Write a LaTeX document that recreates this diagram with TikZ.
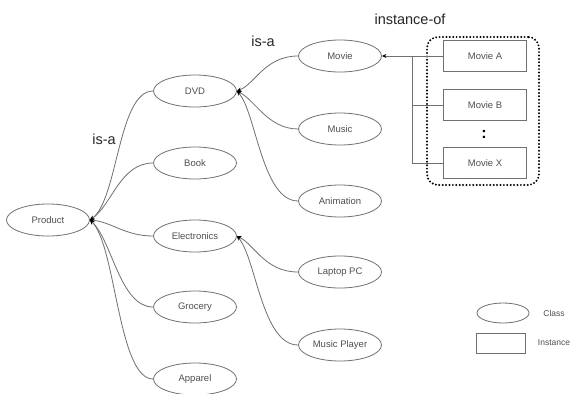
\documentclass[tikz,border=0pt]{standalone}
\usepackage{fontspec}
\setmainfont{Liberation Sans}
\usetikzlibrary{shapes.geometric,arrows.meta}
\definecolor{linegray}{HTML}{707070}
\definecolor{textgray}{HTML}{505050}
\tikzset{
  cls/.style={ellipse, draw=linegray, line width=0.8pt, minimum width=83pt, minimum height=32pt, inner sep=0pt, font=\fontsize{9.5}{10}\selectfont, text=textgray},
  inst/.style={rectangle, draw=linegray, line width=0.8pt, minimum width=83pt, minimum height=31pt, inner sep=0pt, font=\fontsize{9.5}{10}\selectfont, text=textgray},
  isa/.style={draw=linegray, line width=0.8pt, -{Stealth[length=4.5pt,width=4pt,black]}},
  plain/.style={draw=linegray, line width=0.8pt},
  lbl/.style={font=\fontsize{14.5}{15}\selectfont, text=black!85, inner sep=0pt},
  grp/.style={draw=black, line width=2.2pt, line cap=round, dash pattern=on 0pt off 3.4pt, rounded corners=11pt}
}
\begin{document}
\begin{tikzpicture}[x=1pt,y=-1pt]
\useasboundingbox[fill=white] (0,0) rectangle (574,394);
% classes
\node[cls] (product) at (48,220) {Product};
\node[cls] (dvd) at (195,91) {DVD};
\node[cls] (book) at (195,163) {Book};
\node[cls] (elec) at (195,236) {Electronics};
\node[cls] (groc) at (195,307) {Grocery};
\node[cls] (app) at (195,379) {Apparel};
\node[cls] (movie) at (340,56) {Movie};
\node[cls] (music) at (340,129) {Music};
\node[cls] (anim) at (340,201) {Animation};
\node[cls] (laptop) at (340,272) {Laptop PC};
\node[cls] (player) at (340,345) {Music Player};
% instances
\node[inst] (ma) at (485,56) {Movie A};
\node[inst] (mb) at (485,105) {Movie B};
\node[inst] (mx) at (485,163) {Movie X};
\node[font=\fontsize{16}{16}\selectfont\bfseries, inner sep=0pt] (dots) at (484,134) {:};
\node[grp, minimum width=112pt, minimum height=148pt, inner sep=0pt] (group) at (483,111) {};
% labels
\node[lbl] (isa1) at (104,139) {is-a};
\node[lbl] (isa2) at (263,41) {is-a};
\node[lbl] (instof) at (410,19) {instance-of};
% is-a connectors
\draw[isa] (dvd.west) .. controls (118,91) and (118,200) .. (product.east);
\draw[isa] (book.west) .. controls (120,163) and (112,205) .. (product.east);
\draw[isa] (elec.west) .. controls (125,236) and (112,222) .. (product.east);
\draw[isa] (groc.west) .. controls (120,307) and (112,240) .. (product.east);
\draw[isa] (app.west) .. controls (118,379) and (116,245) .. (product.east);
\draw[isa] (movie.west) .. controls (265,56) and (255,84) .. (dvd.east);
\draw[isa] (music.west) .. controls (268,129) and (255,100) .. (dvd.east);
\draw[isa] (anim.west) .. controls (262,201) and (256,112) .. (dvd.east);
\draw[isa] (laptop.west) .. controls (265,272) and (255,245) .. (elec.east);
\draw[isa] (player.west) .. controls (262,345) and (256,258) .. (elec.east);
% instance-of connectors
\coordinate (jtop) at (412,56);
\coordinate (jmid) at (412,105);
\coordinate (jbot) at (412,163);
\draw[isa] (ma.west) -- (movie.east);
\draw[plain] (jtop) -- (jbot);
\draw[plain] (jmid) -- (mb.west);
\draw[plain] (jbot) -- (mx.west);
% legend
\node[ellipse, draw=linegray, line width=0.8pt, minimum width=52pt, minimum height=20pt, inner sep=0pt] (legc) at (503,313) {};
\node[rectangle, draw=linegray, line width=0.8pt, minimum width=49pt, minimum height=20pt, inner sep=0pt] (legi) at (501,343) {};
\node[font=\fontsize{8.5}{9}\selectfont, text=textgray, inner sep=0pt] (legct) at (554,313) {Class};
\node[font=\fontsize{8.5}{9}\selectfont, text=textgray, inner sep=0pt] (legit) at (554,343) {Instance};
\end{tikzpicture}
\end{document}
